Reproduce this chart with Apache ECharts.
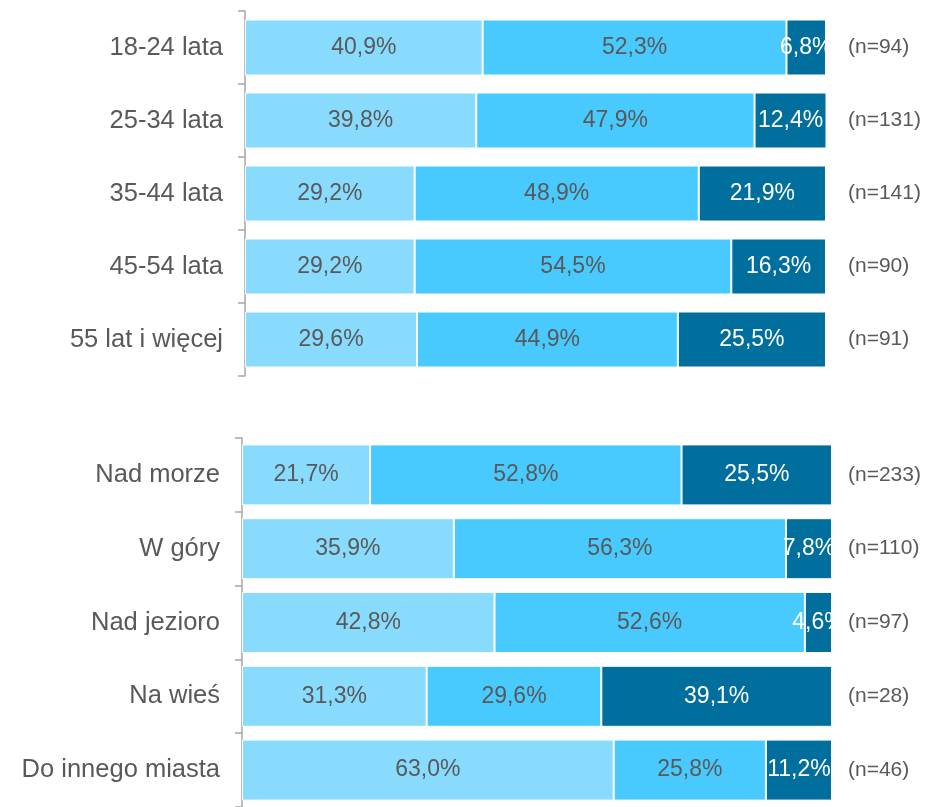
<!DOCTYPE html>
<html>
<head>
<meta charset="utf-8">
<script src="https://cdn.jsdelivr.net/npm/echarts@6/dist/echarts.min.js"></script>
<style>
  html, body { margin: 0; padding: 0; background: #fff; }
  #chart { width: 927px; height: 807px; }
</style>
</head>
<body>
<div id="chart"></div>
<script>
// grupy wiekowe
const ageGroups = ['18-24 lata', '25-34 lata', '35-44 lata', '45-54 lata', '55 lat i więcej']
const ageN = ['(n=94)', '(n=131)', '(n=141)', '(n=90)', '(n=91)']
const ageA = [40.9, 39.8, 29.2, 29.2, 29.6]
const ageB = [52.3, 47.9, 48.9, 54.5, 44.9]
const ageC = [6.8, 12.4, 21.9, 16.3, 25.5]

// kierunki wyjazdu
const places = ['Nad morze', 'W góry', 'Nad jezioro', 'Na wieś', 'Do innego miasta']
const placeN = ['(n=233)', '(n=110)', '(n=97)', '(n=28)', '(n=46)']
const placeA = [21.7, 35.9, 42.8, 31.3, 63.0]
const placeB = [52.8, 56.3, 52.6, 29.6, 25.8]
const placeC = [25.5, 7.8, 4.6, 39.1, 11.2]

const colors = ['#89dbfe', '#48cafe', '#006f9e']
const font = '"Liberation Sans", Arial, sans-serif'
const textColor = '#595959'

const fmt = p => p.value.toFixed(1).replace('.', ',') + '%'

const makeSeries = (idx, arrs, barWidth) => arrs.map((arr, i) => ({
  type: 'bar',
  stack: 'g' + idx,
  xAxisIndex: idx,
  yAxisIndex: idx * 2,
  data: arr,
  barWidth: barWidth,
  itemStyle: { color: colors[i], borderColor: '#fff', borderWidth: 1 },
  label: {
    show: true,
    position: 'inside',
    formatter: fmt,
    color: i === 2 ? '#fff' : textColor,
    fontSize: 23,
    fontFamily: font
  }
}))

const catAxis = (idx, data) => ({
  type: 'category',
  gridIndex: idx,
  inverse: true,
  data: data,
  axisLine: { lineStyle: { color: '#a6a6a6', width: 1.5 } },
  axisTick: { show: true, length: 7, lineStyle: { color: '#a6a6a6', width: 1.5 } },
  axisLabel: { color: textColor, fontSize: 25.5, fontFamily: font, margin: 22 }
})

const nAxis = (idx, data, margin) => ({
  type: 'category',
  gridIndex: idx,
  position: 'right',
  inverse: true,
  data: data,
  axisLine: { show: false },
  axisTick: { show: false },
  axisLabel: { color: textColor, fontSize: 21, fontFamily: font, margin: margin }
})

const valAxis = idx => ({
  type: 'value',
  gridIndex: idx,
  min: 0,
  max: 100,
  show: false
})

const chart = echarts.init(document.getElementById('chart'))

chart.setOption({
  animation: false,
  grid: [
    { left: 245, right: 101, top: 11, height: 365 },
    { left: 242, right: 95, top: 438, height: 375 }
  ],
  xAxis: [valAxis(0), valAxis(1)],
  yAxis: [catAxis(0, ageGroups), nAxis(0, ageN, 22), catAxis(1, places), nAxis(1, placeN, 16)],
  series: [
    ...makeSeries(0, [ageA, ageB, ageC], 56),
    ...makeSeries(1, [placeA, placeB, placeC], 61)
  ]
})
</script>
</body>
</html>
